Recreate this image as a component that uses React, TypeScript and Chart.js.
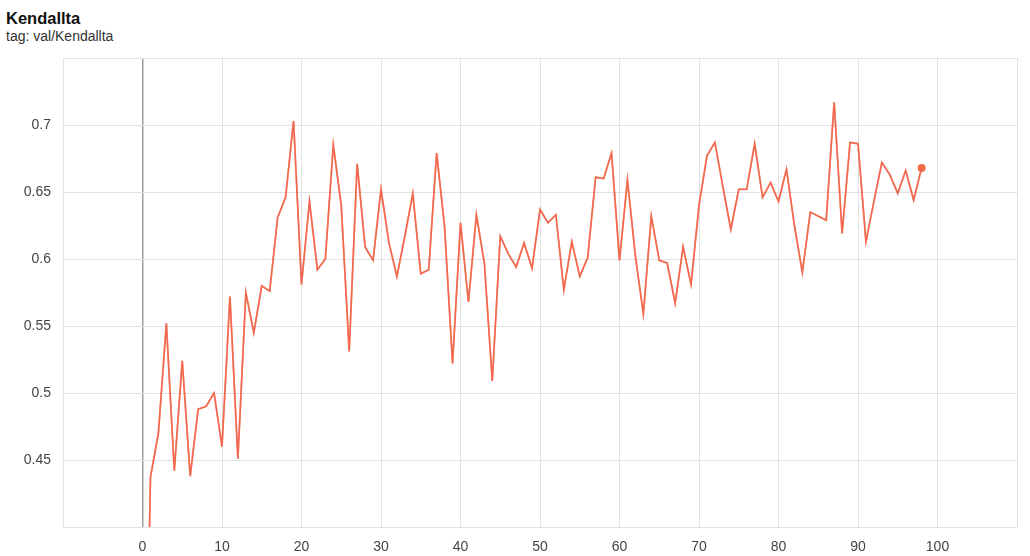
import React, { useEffect, useRef } from "react";
import { Chart, registerables } from "chart.js";

Chart.register(...registerables);

const TITLE = "Kendallta";
const SUBTITLE = "tag: val/Kendallta";

// Kendall tau per step (index = step)
const values: number[] = [
  0.10, 0.437, 0.470, 0.552, 0.442, 0.524, 0.438, 0.488, 0.490, 0.500,
  0.460, 0.572, 0.451, 0.575, 0.545, 0.580, 0.576, 0.631, 0.646, 0.703,
  0.581, 0.643, 0.592, 0.600, 0.685, 0.640, 0.531, 0.671, 0.609, 0.599,
  0.652, 0.612, 0.587, 0.617, 0.649, 0.589, 0.592, 0.679, 0.624, 0.522,
  0.627, 0.568, 0.633, 0.597, 0.509, 0.617, 0.604, 0.594, 0.612, 0.593,
  0.637, 0.627, 0.633, 0.577, 0.613, 0.587, 0.601, 0.661, 0.660, 0.679,
  0.599, 0.659, 0.602, 0.559, 0.632, 0.599, 0.597, 0.567, 0.609, 0.581,
  0.640, 0.677, 0.687, 0.654, 0.622, 0.652, 0.652, 0.686, 0.646, 0.657,
  0.643, 0.667, 0.625, 0.590, 0.635, 0.632, 0.629, 0.717, 0.619, 0.687,
  0.686, 0.613, 0.643, 0.672, 0.663, 0.649, 0.666, 0.644, 0.668,
];

const X_MIN = -10;
const X_MAX = 110;
const X_STEP = 10;
const Y_MIN = 0.4;
const Y_MAX = 0.75;
const Y_STEP = 0.05;

const TICK_FONT = { family: '"Liberation Sans", Arial, sans-serif', size: 14 };
const TICK_COLOR = "#444";
const GRID_COLOR = "#e2e2e2";
const ZERO_COLOR = "#a0a0a0";

export default function App() {
  const ref = useRef<HTMLCanvasElement>(null);

  useEffect(() => {
    const pts = values.map((v, i) => ({ x: i, y: v }));
    const last = values.length - 1;
    const chart = new Chart(ref.current!, {
      type: "line",
      data: {
        datasets: [
          {
            data: pts,
            borderColor: "rgba(240,90,105,0.55)",
            borderWidth: 1.8,
            pointRadius: 0,
            tension: 0,
          },
          {
            data: pts,
            borderColor: "#f47a30",
            borderWidth: 1.6,
            pointRadius: (ctx: any) => (ctx.dataIndex === last ? 4 : 0),
            pointBackgroundColor: "#f26d45",
            pointBorderWidth: 0,
            tension: 0,
          },
        ],
      },
      options: {
        responsive: false,
        animation: false,
        devicePixelRatio: 1,
        layout: { padding: { top: 58, right: 13, left: 0, bottom: 0 } },
        plugins: { legend: { display: false }, tooltip: { enabled: false } },
        scales: {
          x: {
            type: "linear",
            min: X_MIN,
            max: X_MAX,
            ticks: {
              stepSize: X_STEP,
              padding: 12,
              color: TICK_COLOR,
              font: TICK_FONT,
              maxRotation: 0,
              callback: (v: any) =>
                v === X_MIN || v === X_MAX ? "" : String(v),
            },
            grid: {
              drawTicks: false,
              color: (ctx: any) =>
                ctx.tick && ctx.tick.value === 0 ? ZERO_COLOR : GRID_COLOR,
              lineWidth: (ctx: any) =>
                ctx.tick && ctx.tick.value === 0 ? 1.5 : 1,
            },
            border: { display: false },
            afterFit: (s: any) => {
              s.height = 29;
            },
          },
          y: {
            type: "linear",
            min: Y_MIN,
            max: Y_MAX,
            ticks: {
              stepSize: Y_STEP,
              padding: 12,
              color: TICK_COLOR,
              font: TICK_FONT,
              callback: (v: any) => {
                const n = Number(Number(v).toFixed(2));
                return Math.abs(n - Y_MIN) < 1e-6 || Math.abs(n - Y_MAX) < 1e-6
                  ? ""
                  : String(n);
              },
            },
            grid: { drawTicks: false, color: GRID_COLOR, lineWidth: 1 },
            border: { display: false },
            afterFit: (s: any) => {
              s.width = 63;
            },
          },
        },
      },
    } as any);
    return () => chart.destroy();
  }, []);

  return (
    <div
      style={{
        position: "fixed",
        left: 0,
        top: 0,
        width: 1030,
        height: 556,
        background: "#fff",
      }}
    >
      <div
        style={{
          position: "absolute",
          left: 6,
          top: 10,
          font: 'bold 16.5px "Liberation Sans", Arial, sans-serif',
          lineHeight: "16px",
          color: "#111",
          whiteSpace: "nowrap",
        }}
      >
        {TITLE}
      </div>
      <div
        style={{
          position: "absolute",
          left: 6,
          top: 29,
          font: '14px "Liberation Sans", Arial, sans-serif',
          lineHeight: "14px",
          color: "#333",
          whiteSpace: "nowrap",
        }}
      >
        {SUBTITLE}
      </div>
      <canvas
        ref={ref}
        width={1030}
        height={556}
        style={{ position: "absolute", left: 0, top: 0 }}
      />
    </div>
  );
}
